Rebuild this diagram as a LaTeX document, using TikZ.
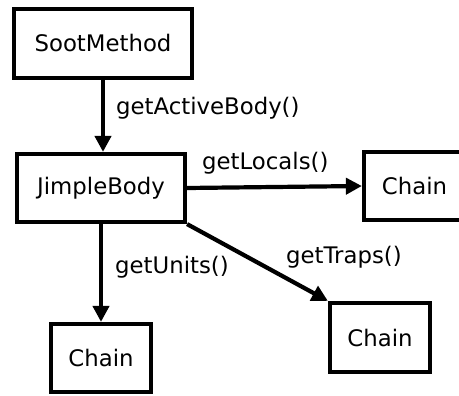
\documentclass[tikz,border=0pt]{standalone}
\usepackage{fontspec}
\setmainfont{DejaVu Sans}
\usetikzlibrary{arrows.meta}
\begin{document}
\begin{tikzpicture}[x=1pt,y=-1pt,
  box/.style={draw=black,line width=4.2pt,fill=white,inner sep=0pt,
    font=\fontsize{22.8}{27}\selectfont},
  lbl/.style={anchor=west,inner sep=0pt,font=\fontsize{22.8}{27}\selectfont},
  link/.style={line width=4.2pt,-{Triangle[length=16pt,width=16pt]}}]
  \useasboundingbox (0,0) rectangle (459,396);
  \clip (0,0) rectangle (459,396);
  \fill[white] (0,0) rectangle (459,396);

  % classes
  \node[box,minimum width=178pt,minimum height=69pt] (sm) at (103,43.5) {SootMethod};
  \node[box,minimum width=168pt,minimum height=68pt] (jb) at (101,188) {JimpleBody};
  \node[box,minimum width=101pt,minimum height=68pt] (cl) at (414.5,186) {Chain};
  \node[box,minimum width=100pt,minimum height=68pt] (cu) at (101,358) {Chain};
  \node[box,minimum width=100pt,minimum height=69pt] (ct) at (380,337.5) {Chain};

  % accessors
  \draw[link] (sm.south) -- (sm.south |- jb.north);
  \draw[link] (jb.east) -- (cl.west);
  \draw[link] (jb.south) -- (cu.north);
  \draw[link] (jb.south east) -- (ct.north west);

  % method labels
  \node[lbl] (la) at (116,108) {getActiveBody()};
  \node[lbl] (ll) at (202,163) {getLocals()};
  \node[lbl] (lu) at (115,267) {getUnits()};
  \node[lbl] (lt) at (286,257) {getTraps()};
\end{tikzpicture}
\end{document}
